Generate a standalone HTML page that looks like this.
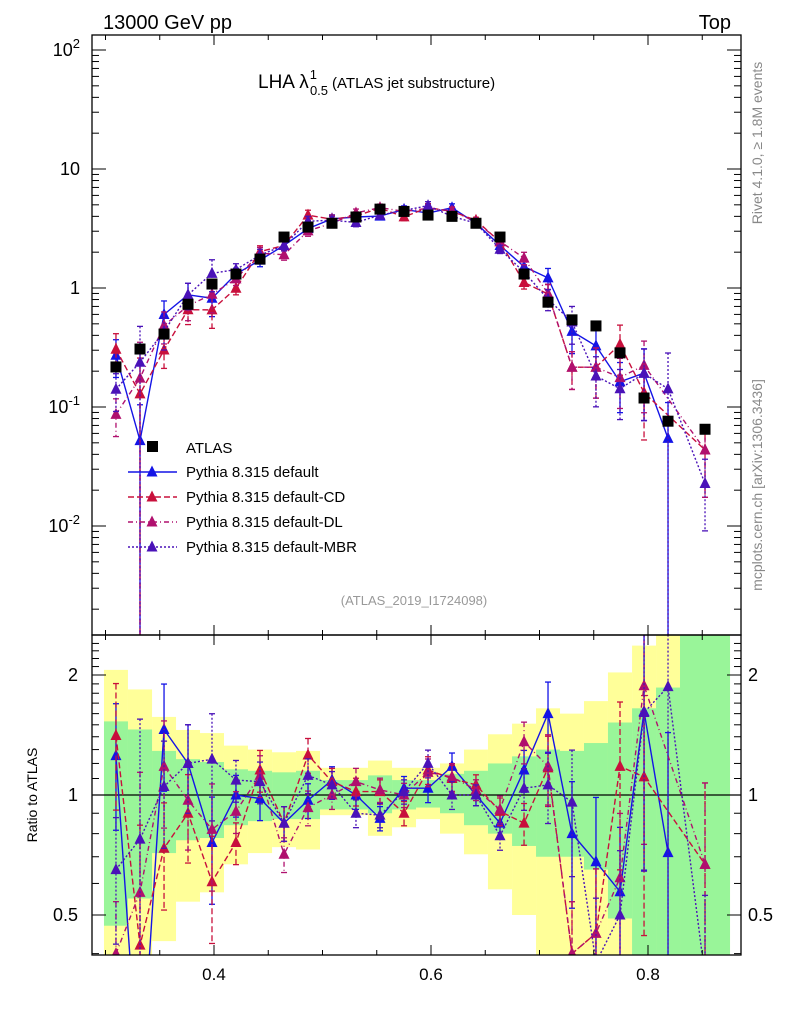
<!DOCTYPE html>
<html><head><meta charset="utf-8"><style>
html,body{margin:0;background:#fff;width:786px;height:1024px;overflow:hidden}
svg{display:block;font-family:"Liberation Sans",sans-serif}
</style></head><body>
<svg id="chart" width="786" height="1024" viewBox="0 0 786 1024" xmlns="http://www.w3.org/2000/svg">
<defs>
<clipPath id="cm"><rect x="92" y="35" width="649" height="600"/></clipPath>
<clipPath id="cr"><rect x="92" y="635" width="649" height="320"/></clipPath>
</defs>
<g id="bands" clip-path="url(#cr)"></g>
<g id="mainMarks" clip-path="url(#cm)"></g>
<g id="ratioMarks" clip-path="url(#cr)"></g>
<g id="axes"></g>
<text x="103" y="29" font-size="20">13000 GeV pp</text>
<text x="731" y="29" font-size="20" text-anchor="end">Top</text>
<text x="258" y="88" font-size="19">LHA λ<tspan font-size="13" dx="1" dy="-9">1</tspan><tspan font-size="13" dx="-7" dy="16">0.5</tspan><tspan font-size="15" dx="4" dy="-7">(ATLAS jet substructure)</tspan></text>
<text x="414" y="605" font-size="13" fill="#999" text-anchor="middle">(ATLAS_2019_I1724098)</text>
<text transform="translate(762,143) rotate(-90)" font-size="14" fill="#888" text-anchor="middle">Rivet 4.1.0, ≥ 1.8M events</text>
<text transform="translate(762,485) rotate(-90)" font-size="14" fill="#888" text-anchor="middle">mcplots.cern.ch [arXiv:1306.3436]</text>
<text transform="translate(37,795) rotate(-90)" font-size="14" text-anchor="middle">Ratio to ATLAS</text>
<g id="legend"></g>
</svg>
<script>
const edges=[0.2986,0.3207,0.3429,0.3650,0.3871,0.4092,0.4313,0.4535,0.4756,0.4977,0.5198,0.5419,0.5641,0.5862,0.6083,0.6304,0.6525,0.6747,0.6968,0.7189,0.7410,0.7631,0.7853,0.8074,0.8295,0.8756];
const atlas=[0.217,0.307,0.41,0.73,1.08,1.31,1.75,2.68,3.25,3.5,3.95,4.6,4.4,4.1,4.0,3.5,2.68,1.31,0.76,0.54,0.48,0.285,0.119,0.076,0.065];
const ratioDefault=[1.255,0.17,1.46,1.20,0.76,1.0,0.98,0.85,0.97,1.09,1.0,0.874,1.04,1.04,1.18,1.0,0.85,1.155,1.60,0.80,0.68,0.572,1.62,0.717,null];
const ratioCD=[1.41,0.42,0.735,0.90,0.606,0.76,1.155,0.85,1.26,1.08,1.02,1.02,0.90,1.155,1.10,1.06,0.91,0.85,1.17,0.40,0.45,1.18,1.11,null,0.67];
const ratioDL=[0.40,0.57,1.18,0.97,0.82,0.91,1.12,0.71,0.93,1.0,1.08,1.03,1.0,1.14,1.11,1.03,0.92,1.36,1.18,0.40,0.45,0.62,1.88,null,0.67];
const ratioMBR=[0.65,0.775,1.05,1.20,1.23,1.09,1.08,0.85,1.12,1.06,0.90,0.89,1.02,1.20,1.0,1.0,0.79,1.04,1.06,0.96,0.38,0.50,1.61,1.87,0.35];
const relErr=[0.35,1.0,0.3,0.25,0.3,0.12,0.12,0.1,0.1,0.08,0.08,0.07,0.07,0.08,0.08,0.06,0.08,0.12,0.2,0.35,0.45,0.45,0.6,1.0,0.6];
const yellowHi=[2.06,1.84,1.57,1.456,1.43,1.33,1.30,1.28,1.29,1.17,1.17,1.22,1.17,1.17,1.20,1.30,1.42,1.51,1.65,1.60,1.72,2.03,2.37,3,3];
const greenHi=[1.53,1.46,1.29,1.23,1.21,1.16,1.15,1.14,1.15,1.09,1.09,1.12,1.09,1.09,1.13,1.15,1.20,1.25,1.30,1.29,1.35,1.52,1.65,1.86,3];
const greenLo=[0.47,0.55,0.715,0.77,0.78,0.84,0.86,0.87,0.87,0.92,0.92,0.90,0.92,0.93,0.90,0.84,0.80,0.745,0.70,0.70,0.65,0.49,0.2,0.2,0.2];
const yellowLo=[0.2,0.2,0.43,0.54,0.57,0.67,0.715,0.74,0.73,0.89,0.89,0.79,0.83,0.87,0.80,0.71,0.58,0.50,0.2,0.2,0.2,0.2,0.2,0.2,0.2];
const xTicks=[0.4,0.6,0.8];
const mainTicks=[2,1,0,-1,-2];
const ratioTicks=[2,1,0.5];

const NS="http://www.w3.org/2000/svg";
const xp=v=>214+(v-0.4)*1085;
const ym=v=>288-119*Math.log10(v);
const yr=r=>795-120*Math.log2(r);
function mk(tag,attrs,parent){const e=document.createElementNS(NS,tag);for(const k in attrs)e.setAttribute(k,attrs[k]);parent.appendChild(e);return e;}
const centers=atlas.map((_,i)=>(edges[i]+edges[i+1])/2);

const bands=document.getElementById('bands');
atlas.forEach((_,i)=>{
  const x0=xp(edges[i]),x1=xp(edges[i+1]);
  const yb=mk('rect',{x:x0,y:yr(yellowHi[i]),width:x1-x0,height:yr(yellowLo[i])-yr(yellowHi[i]),fill:'#ffff99'},bands);
  
  
});
atlas.forEach((_,i)=>{
  const x0=xp(edges[i]),x1=xp(edges[i+1]);
  const gb=mk('rect',{x:x0,y:yr(greenHi[i]),width:x1-x0,height:yr(greenLo[i])-yr(greenHi[i]),fill:'#99f599'},bands);
  
  
});
mk('line',{x1:92,x2:741,y1:yr(1),y2:yr(1),stroke:'#000','stroke-width':1.3},bands);

const series=[
 {name:'default',r:ratioDefault,c:'#1414e6',d:''},
 {name:'default-cd',r:ratioCD,c:'#c8103c',d:'6,3'},
 {name:'default-dl',r:ratioDL,c:'#b0106e',d:'5,3,1,3'},
 {name:'default-mbr',r:ratioMBR,c:'#4a12b8',d:'2,2'}
];
function tri(g,x,y,c){return mk('polygon',{points:`${x-5.5},${y+4.5} ${x+5.5},${y+4.5} ${x},${y-6.5}`,fill:c},g);}
function drawSeries(g,vals,s,yf,bottom){
  const pts=[];
  vals.forEach((v,i)=>{if(v!=null&&v>0)pts.push([xp(centers[i]),yf(v),v,i]);});
  const pl=mk('polyline',{points:pts.map(p=>p[0]+','+p[1]).join(' '),fill:'none',stroke:s.c,'stroke-width':1.4},g);
  if(s.d)pl.setAttribute('stroke-dasharray',s.d);
  
  
  pts.forEach(p=>{
    const e=relErr[p[3]];const lo=p[2]*(1-e);const hi=p[2]*(1+e);
    const ylo=lo>0?yf(lo):bottom;const yhi=yf(hi);
    const el=mk('line',{x1:p[0],x2:p[0],y1:yhi,y2:ylo,stroke:s.c,'stroke-width':1.3},g);
    if(s.d)el.setAttribute('stroke-dasharray',s.d);
    mk('line',{x1:p[0]-3,x2:p[0]+3,y1:yhi,y2:yhi,stroke:s.c,'stroke-width':1.3},g);
    if(lo>0)mk('line',{x1:p[0]-3,x2:p[0]+3,y1:ylo,y2:ylo,stroke:s.c,'stroke-width':1.3},g);
    const t=tri(g,p[0],p[1],s.c);
    
    
  });
}
const mainG=document.getElementById('mainMarks');
const ratioG=document.getElementById('ratioMarks');
series.forEach(s=>{
  const mainVals=s.r.map((r,i)=>r==null?null:r*atlas[i]);
  drawSeries(mainG,mainVals,s,ym,640);
  drawSeries(ratioG,s.r,s,yr,960);
});
atlas.forEach((v,i)=>{
  const x=xp(centers[i]),y=ym(v);
  const sq=mk('rect',{x:x-5.5,y:y-5.5,width:11,height:11,fill:'#000'},mainG);
  
  
});

const ax=document.getElementById('axes');
mk('rect',{x:92,y:35,width:649,height:600,fill:'none',stroke:'#000','stroke-width':1.3},ax);
mk('rect',{x:92,y:635,width:649,height:320,fill:'none',stroke:'#000','stroke-width':1.3},ax);
for(let v=0.3;v<0.89;v+=0.05){
  const x=xp(v);const maj=xTicks.some(t=>Math.abs(t-v)<1e-6);const L=maj?10:5;
  [[35,1],[635,-1],[635,1],[955,-1]].forEach(([y,dir])=>mk('line',{x1:x,x2:x,y1:y,y2:y+dir*L,stroke:'#000'},ax));
}
xTicks.forEach(v=>{const t=mk('text',{x:xp(v),y:980,'font-size':17,'text-anchor':'middle'},ax);t.textContent=v.toFixed(1);
  });
for(let d=-3;d<=2;d++){for(let m=1;m<10;m++){const v=m*Math.pow(10,d);const y=ym(v);if(y<35||y>635)continue;const L=m==1?14:7;
  mk('line',{x1:92,x2:92+L,y1:y,y2:y,stroke:'#000'},ax);mk('line',{x1:741,x2:741-L,y1:y,y2:y,stroke:'#000'},ax);}}
mainTicks.forEach(d=>{const y=ym(Math.pow(10,d));const t=mk('text',{x:80,y:y+6,'font-size':18,'text-anchor':'end'},ax);
  
  if(d==1)t.textContent='10';else if(d==0)t.textContent='1';
  else{t.textContent='10';const s=mk('tspan',{dy:-8,'font-size':13},t);s.textContent=String(d);}});
for(let v=0.4;v<=2.5;v+=0.1){const y=yr(v);if(y<635||y>955)continue;const maj=ratioTicks.some(t=>Math.abs(t-v)<1e-6);const L=maj?14:7;
  mk('line',{x1:92,x2:92+L,y1:y,y2:y,stroke:'#000'},ax);mk('line',{x1:741,x2:741-L,y1:y,y2:y,stroke:'#000'},ax);}
ratioTicks.forEach(v=>{const y=yr(v);
  const a=mk('text',{x:78,y:y+6,'font-size':18,'text-anchor':'end'},ax);a.textContent=String(v);
  
  const b=mk('text',{x:748,y:y+6,'font-size':18},ax);b.textContent=String(v);
  });

const lg=document.getElementById('legend');
const sq=mk('rect',{x:147,y:441,width:11,height:11,fill:'#000'},lg);

const lt=mk('text',{x:186,y:453,'font-size':15},lg);lt.textContent='ATLAS';

const labels=['Pythia 8.315 default','Pythia 8.315 default-CD','Pythia 8.315 default-DL','Pythia 8.315 default-MBR'];
series.forEach((s,i)=>{const y=472+25*i;
  const l=mk('line',{x1:128,x2:177,y1:y,y2:y,stroke:s.c,'stroke-width':1.4},lg);if(s.d)l.setAttribute('stroke-dasharray',s.d);
  tri(lg,152,y,s.c);
  const t=mk('text',{x:186,y:y+5,'font-size':15},lg);t.textContent=labels[i];
  });
</script>
</body></html>
